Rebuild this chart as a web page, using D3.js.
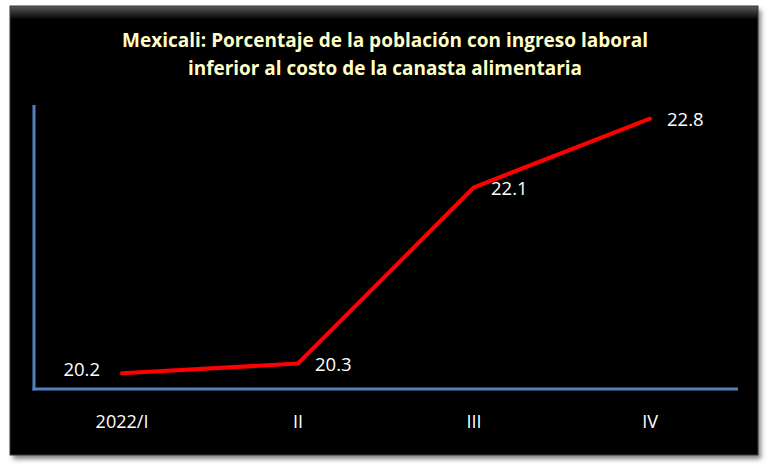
<!DOCTYPE html>
<html><head><meta charset="utf-8">
<script src="https://cdn.jsdelivr.net/npm/d3@7/dist/d3.min.js"></script>
<style>body{margin:0;background:#fff;}svg{display:block;}</style>
</head><body>
<script>
const categories = ["2022/I", "II", "III", "IV"];
const values = [20.2, 20.3, 22.1, 22.8];
const labels = ["20.2", "20.3", "22.1", "22.8"];
const labelPos = ["left", "right", "right", "right"];
const titleLines = ["Mexicali: Porcentaje de la población con ingreso laboral", "inferior al costo de la canasta alimentaria"];

const W = 770, H = 470;
const svg = d3.select("body").append("svg").attr("width", W).attr("height", H);
const defs = svg.append("defs");
const f = defs.append("filter").attr("id", "sh").attr("x", "-5%").attr("y", "-5%").attr("width", "110%").attr("height", "112%");
f.append("feGaussianBlur").attr("in", "SourceAlpha").attr("stdDeviation", 2.5);
f.append("feOffset").attr("dx", 3).attr("dy", 4).attr("result", "b");
f.append("feComponentTransfer").append("feFuncA").attr("type", "linear").attr("slope", 0.5);
const m = f.append("feMerge"); m.append("feMergeNode"); m.append("feMergeNode").attr("in", "SourceGraphic");
const g = defs.append("linearGradient").attr("id", "tg").attr("x1", 0).attr("y1", 0).attr("x2", 0).attr("y2", 1);
g.append("stop").attr("offset", "0%").attr("stop-color", "#5a5a5a");
g.append("stop").attr("offset", "100%").attr("stop-color", "#050505");

svg.append("rect").attr("x", 10).attr("y", 6).attr("width", 748).attr("height", 449).attr("fill", "#050505").attr("filter", "url(#sh)");
svg.append("rect").attr("x", 10).attr("y", 6).attr("width", 748).attr("height", 13).attr("fill", "url(#tg)");
svg.append("rect").attr("x", 10).attr("y", 6).attr("width", 748).attr("height", 449).attr("fill", "none").attr("stroke", "#3a3a3a").attr("stroke-width", 1);

const x0 = 34, x1 = 738, yTop = 105, yBot = 389;
const x = d3.scaleBand().domain(categories).range([x0, x1]);
const y = d3.scaleLinear().domain([20.04, 22.94]).range([yBot, yTop]);

// title
const t = svg.append("text").attr("font-family", "'Open Sans', sans-serif").attr("font-weight", "bold").attr("font-size", 19).attr("fill", "#FFFFC8").attr("text-anchor", "middle");
t.append("tspan").attr("x", 385).attr("y", 47).text(titleLines[0]).attr("textLength", 526).attr("lengthAdjust", "spacingAndGlyphs");
t.append("tspan").attr("x", 385).attr("y", 75).text(titleLines[1]).attr("textLength", 394).attr("lengthAdjust", "spacingAndGlyphs");

// axes
const xAxis = d3.axisBottom(x).tickSize(0).tickPadding(26);
const xa = svg.append("g").attr("transform", `translate(0,${yBot})`).call(xAxis);
xa.select(".domain").attr("stroke", "#4F81BD").attr("stroke-width", 3).attr("d", `M${x0 - 1.5},0H${x1}`);
xa.selectAll("text").attr("fill", "#fff").attr("font-size", 18).attr("font-family", "'Open Sans', sans-serif");

const ya = svg.append("g").attr("transform", `translate(${x0},0)`).call(d3.axisLeft(y).tickValues([]).tickSize(0));
ya.select(".domain").attr("stroke", "#4F81BD").attr("stroke-width", 3).attr("d", `M0,${yTop}V${yBot + 1.5}`);

// line
const line = d3.line().x((d, i) => x(categories[i]) + x.bandwidth() / 2).y(d => y(d));
svg.append("path").datum(values).attr("d", line).attr("fill", "none").attr("stroke", "#FF0000").attr("stroke-width", 4).attr("stroke-linecap", "round").attr("stroke-linejoin", "round");

// data labels
svg.selectAll(".lbl").data(values).enter().append("text")
  .attr("x", (d, i) => x(categories[i]) + x.bandwidth() / 2 + (labelPos[i] === "left" ? -22 : 17))
  .attr("y", (d, i) => y(d) + (labelPos[i] === "left" ? -4 : 1))
  .attr("dy", "0.35em")
  .attr("text-anchor", (d, i) => labelPos[i] === "left" ? "end" : "start")
  .attr("fill", "#fff").attr("font-size", 18.5).attr("font-family", "'Open Sans', sans-serif")
  .text((d, i) => labels[i]);
</script>
</body></html>
